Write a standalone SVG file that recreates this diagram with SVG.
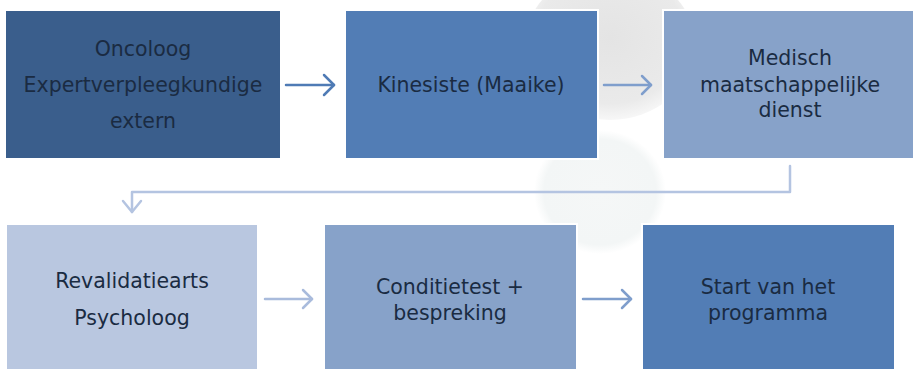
<svg xmlns="http://www.w3.org/2000/svg" width="913" height="369" viewBox="0 0 913 369">
<defs>
<radialGradient id="g1" cx="0.5" cy="0.45" r="0.55">
<stop offset="0" stop-color="#e4e4e4"/>
<stop offset="0.8" stop-color="#eaeaea"/>
<stop offset="1" stop-color="#f7f7f7"/>
</radialGradient>
<radialGradient id="g2" cx="0.5" cy="0.5" r="0.5">
<stop offset="0" stop-color="#f5f7f7"/>
<stop offset="0.85" stop-color="#f3f6f6"/>
<stop offset="1" stop-color="#ffffff"/>
</radialGradient>
<style>
.box{stroke:#ffffff;stroke-width:2}
.t{font-family:"DejaVu Sans",Verdana,sans-serif;font-size:20.5px;fill:#1a2b42;text-anchor:middle}
.c{fill:none;stroke-width:2.5;stroke-linecap:round;stroke-linejoin:round}
</style>
</defs>
<rect width="913" height="369" fill="#ffffff"/>
<g id="background">
<ellipse cx="600" cy="192" rx="66" ry="62" fill="url(#g2)"/>
<ellipse cx="610" cy="45" rx="85" ry="75" fill="url(#g1)"/>
</g>
<g id="connectors">
<g stroke="#4f7bb5" class="c"><line x1="286" y1="85" x2="334" y2="85"/><polyline points="324,75 334,85 324,95"/></g>
<g stroke="#7f9ecc" class="c"><line x1="604" y1="85" x2="651" y2="85"/><polyline points="642,76 651,85 642,94"/></g>
<g stroke="#b4c4e1" class="c"><polyline points="790,166 790,192 132,192 132,212"/><polyline points="123,201 132,212 141,201"/></g>
<g stroke="#a9bbdc" class="c"><line x1="265" y1="299" x2="312" y2="299"/><polyline points="303,290 312,299 303,308"/></g>
<g stroke="#7f9ecc" class="c"><line x1="583" y1="299" x2="631" y2="299"/><polyline points="622,290 631,299 622,308"/></g>
</g>
<g id="n1"><rect class="box" x="5" y="10" width="276" height="149" fill="#3a5e8c"/>
<text class="t" x="143" y="56">Oncoloog</text><text class="t" x="143" y="92">Expertverpleegkundige</text><text class="t" x="143" y="128">extern</text></g>
<g id="n2"><rect class="box" x="345" y="10" width="253" height="149" fill="#527db5"/>
<text class="t" x="471" y="92">Kinesiste (Maaike)</text></g>
<g id="n3"><rect class="box" x="663" y="10" width="252" height="149" fill="#87a2c9"/>
<text class="t" x="790" y="65">Medisch</text><text class="t" x="790" y="92">maatschappelijke</text><text class="t" x="790" y="117">dienst</text></g>
<g id="n4"><rect class="box" x="6" y="224" width="252" height="147" fill="#b9c7e0"/>
<text class="t" x="132" y="288">Revalidatiearts</text><text class="t" x="132" y="325">Psycholoog</text></g>
<g id="n5"><rect class="box" x="324" y="224" width="253" height="147" fill="#87a2c9"/>
<text class="t" x="450" y="294">Conditietest +</text><text class="t" x="450" y="320">bespreking</text></g>
<g id="n6"><rect class="box" x="642" y="224" width="253" height="147" fill="#527db5"/>
<text class="t" x="768" y="294">Start van het</text><text class="t" x="768" y="320">programma</text></g>
</svg>
